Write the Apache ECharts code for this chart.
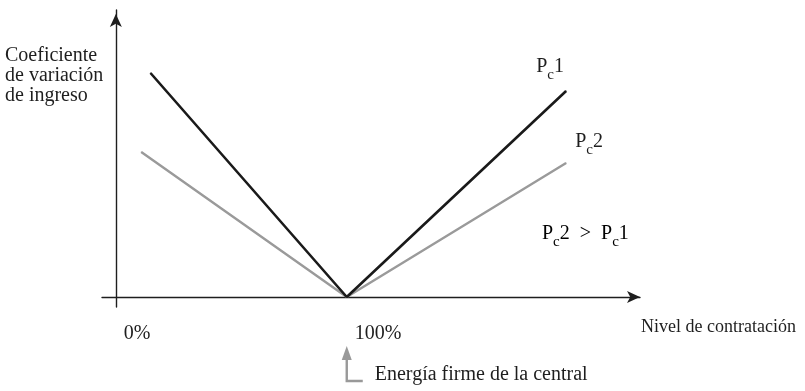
<!DOCTYPE html>
<html>
<head>
<meta charset="utf-8">
<script src="https://cdn.jsdelivr.net/npm/echarts@6/dist/echarts.min.js"></script>
<style>
    html, body { margin: 0; padding: 0; background: #fff; }
    #chart { width: 805px; height: 391px; }
</style>
</head>
<body>
<div id="chart"></div>
<script>

// Chart data
// ------------------------------

var xTickValues = [0, 100];
var xTickLabels = ['0%', '100%'];
var pc1Points = [[15, 224], [100, 0], [195, 206]];
var pc2Points = [[11, 145], [100, 0], [195, 134]];
var firmEnergyLevel = 100;

var yAxisTitle = 'Coeficiente\nde variación\nde ingreso';
var xAxisTitle = 'Nivel de contratación';
var pc1Label = '{p|P}{s|c}{p|1}';
var pc2Label = '{p|P}{s|c}{p|2}';
var noteLabel = '{p|P}{s|c}{p|2  >  P}{s|c}{p|1}';
var firmEnergyText = 'Energía firme de la central';


// Setup
// ------------------------------

var FONT = 'Liberation Serif';
var TEXT_COLOR = '#1e1e1e';

// Subscript text styles
var subRich = {
    p: { fontFamily: FONT, fontSize: 20, lineHeight: 20, color: TEXT_COLOR, verticalAlign: 'top' },
    s: { fontFamily: FONT, fontSize: 15, lineHeight: 15, color: TEXT_COLOR, verticalAlign: 'top', padding: [11, 0, 0, 0] }
};

var chart_element = document.getElementById('chart');
var chart = echarts.init(chart_element);

// Builds the line series data, labelling the last point
var buildData = function(points, labelText, offset) {
    return points.map(function(p, i) {
        var item = { value: p };
        if (i === points.length - 1) {
            item.label = {
                show: true,
                position: 'top',
                offset: offset,
                formatter: labelText,
                rich: subRich
            };
        }
        return item;
    });
};

chart.setOption({

    animation: false,

    textStyle: {
        fontFamily: FONT
    },

    grid: {
        left: 102,
        right: 165,
        top: 10,
        bottom: 84
    },

    // Horizontal axis
    xAxis: {
        type: 'value',
        min: -6,
        max: 227,
        name: xAxisTitle,
        nameLocation: 'end',
        nameGap: 1,
        nameTextStyle: {
            fontFamily: FONT,
            fontSize: 18,
            color: TEXT_COLOR,
            verticalAlign: 'top',
            padding: [21, 0, 0, 0]
        },
        axisLine: {
            onZero: true,
            symbol: ['none', 'arrow'],
            symbolSize: [9, 13],
            symbolOffset: [0, 0],
            lineStyle: { color: '#1e1e1e', width: 1.4 }
        },
        axisTick: { show: false },
        splitLine: { show: false },
        axisLabel: {
            customValues: xTickValues,
            formatter: function(v) {
                return xTickLabels[xTickValues.indexOf(v)];
            },
            fontFamily: FONT,
            fontSize: 20,
            color: TEXT_COLOR,
            align: 'left',
            padding: [0, 0, 0, 8],
            margin: 17
        }
    },

    // Vertical axis
    yAxis: {
        type: 'value',
        min: -10,
        max: 287,
        axisLine: {
            onZero: true,
            symbol: ['none', 'arrow'],
            symbolSize: [9, 13],
            symbolOffset: [0, -4],
            lineStyle: { color: '#1e1e1e', width: 1.4 }
        },
        axisTick: { show: false },
        axisLabel: { show: false },
        splitLine: { show: false }
    },

    series: [
        {
            name: 'Pc1',
            type: 'line',
            z: 3,
            symbol: 'circle',
            symbolSize: 1,
            showSymbol: true,
            lineStyle: { color: '#1a1a1a', width: 2.6 },
            itemStyle: { color: '#1a1a1a' },
            data: buildData(pc1Points, pc1Label, [-16, -9])
        },
        {
            name: 'Pc2',
            type: 'line',
            z: 2,
            symbol: 'circle',
            symbolSize: 1,
            showSymbol: true,
            lineStyle: { color: '#9a9a9a', width: 2.4 },
            itemStyle: { color: '#9a9a9a' },
            data: buildData(pc2Points, pc2Label, [23, -6])
        }
    ]
});


// Annotations
// ------------------------------

var firmX = chart.convertToPixel({ xAxisIndex: 0 }, firmEnergyLevel);

chart.setOption({
    graphic: [
        {
            type: 'text',
            left: 5,
            top: 46,
            style: {
                text: yAxisTitle,
                fontFamily: FONT,
                fontSize: 20,
                lineHeight: 20,
                fill: TEXT_COLOR
            }
        },
        {
            type: 'text',
            left: 542,
            top: 224,
            style: {
                text: noteLabel,
                rich: subRich
            }
        },
        // Firm energy arrow
        {
            type: 'polyline',
            shape: { points: [[firmX, 358], [firmX, 381], [firmX + 16, 381]] },
            style: { stroke: '#999', lineWidth: 2.4, fill: null }
        },
        {
            type: 'polygon',
            shape: { points: [[firmX, 346], [firmX - 5, 360], [firmX + 5, 360]] },
            style: { fill: '#999' }
        },
        {
            type: 'text',
            left: firmX + 28,
            top: 365,
            style: {
                text: firmEnergyText,
                fontFamily: FONT,
                fontSize: 20,
                fill: TEXT_COLOR
            }
        }
    ]
});

window.addEventListener('resize', function() {
    chart.resize();
});

</script>
</body>
</html>
